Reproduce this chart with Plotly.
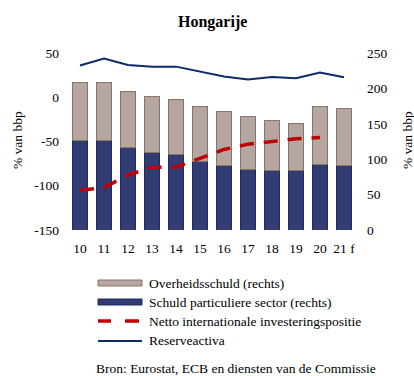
import plotly.graph_objects as go

# Jaren (2021 = prognose)
years = ["10", "11", "12", "13", "14", "15", "16", "17", "18", "19", "20", "21 f"]

# Rechteras: schuld in % van bbp
private_debt = [127, 127, 117, 109, 107, 96.5, 91, 85, 84, 84, 92, 91]
government_debt = [82, 82, 79, 79, 78, 77.5, 76, 75, 70, 66, 82, 80]

# Linkeras: % van bbp
niip = [-105, -102, -88, -79, -79, -69, -59, -53, -50, -47, -45.5, None]
reserves = [35.8, 43.7, 36.5, 34.6, 34.6, 29, 23.4, 20, 23, 21.5, 27.9, 22.6]

left_ticks = [-150, -100, -50, 0, 50]
left_ticktext = ["-150", "-100", "-50", "0", "50"]
right_ticks = [0, 50, 100, 150, 200, 250]
right_ticktext = ["0", "50", "100", "150", "200", "250"]

FONT = "Liberation Serif"
GREY = "#B5A79F"
GREY_EDGE = "#8A7468"
NAVY = "#323C74"
NAVY_EDGE = "#1E2A5E"
RED = "#C00000"
LINE_BLUE = "#0F2A6A"

W, H = 414, 376
ML, MR, MT, MB = 68, 58, 53, 146
PW, PH = W - ML - MR, H - MT - MB


def px(x):
    return (x - ML) / PW


def py(y):
    return (H - MB - y) / PH


fig = go.Figure()

fig.add_trace(go.Bar(
    x=years, y=private_debt, name="Schuld particuliere sector (rechts)",
    marker=dict(color=NAVY, line=dict(color=NAVY_EDGE, width=1)),
    yaxis="y", showlegend=False,
))
fig.add_trace(go.Bar(
    x=years, y=government_debt, name="Overheidsschuld (rechts)",
    marker=dict(color=GREY, line=dict(color=GREY_EDGE, width=1)),
    yaxis="y", showlegend=False,
))
fig.add_trace(go.Scatter(
    x=years, y=niip, name="Netto internationale investeringspositie",
    mode="lines", line=dict(color=RED, width=3.5, dash="14px,10px"),
    yaxis="y2", showlegend=False,
))
fig.add_trace(go.Scatter(
    x=years, y=reserves, name="Reserveactiva",
    mode="lines", line=dict(color=LINE_BLUE, width=2),
    yaxis="y2", showlegend=False,
))

tickfont = dict(family=FONT, size=13.5, color="black")

fig.update_layout(
    width=W, height=H,
    margin=dict(l=ML, r=MR, t=MT, b=MB),
    paper_bgcolor="white", plot_bgcolor="white",
    barmode="stack", bargap=0.35,
    font=dict(family=FONT, color="black"),
    xaxis=dict(
        type="category", showgrid=False, showline=False, zeroline=False,
        tickfont=tickfont, ticks="", ticklabelstandoff=8,
    ),
    yaxis=dict(
        side="right", range=[0, 250], tickvals=right_ticks, ticktext=right_ticktext,
        showgrid=False, showline=False, zeroline=False, tickfont=tickfont,
        ticklabelstandoff=10,
    ),
    yaxis2=dict(
        overlaying="y", side="left", range=[-150, 50], tickvals=left_ticks,
        ticktext=left_ticktext, showgrid=False, showline=False, zeroline=False,
        tickfont=tickfont, ticklabelstandoff=8,
    ),
    showlegend=False,
)

annotations = [
    dict(text="<b>Hongarije</b>", x=px(212), y=py(22), font=dict(size=16)),
    dict(text="% van bbp", x=px(17), y=py(140), textangle=-90, font=dict(size=13.5)),
    dict(text="% van bbp", x=px(407), y=py(140), textangle=-90, font=dict(size=13.5)),
    dict(text="Bron: Eurostat, ECB en diensten van de Commissie",
         x=px(236), y=py(368), font=dict(size=13.5)),
]
legend_rows = [
    ("Overheidsschuld (rechts)", 283),
    ("Schuld particuliere sector (rechts)", 302),
    ("Netto internationale investeringspositie", 321),
    ("Reserveactiva", 340),
]
for label, ly in legend_rows:
    annotations.append(dict(text=label, x=px(147), y=py(ly), xanchor="left",
                            font=dict(size=13.5)))
for a in annotations:
    a.setdefault("xanchor", "center")
    a.update(xref="paper", yref="paper", yanchor="middle", showarrow=False)
    a["font"].setdefault("family", FONT)
    a["font"].setdefault("color", "black")
fig.update_layout(annotations=annotations)

shapes = [
    dict(type="rect", x0=px(98), x1=px(142), y0=py(280), y1=py(286),
         fillcolor=GREY, line=dict(color=GREY_EDGE, width=1)),
    dict(type="rect", x0=px(98), x1=px(142), y0=py(299), y1=py(305),
         fillcolor=NAVY, line=dict(color=NAVY_EDGE, width=1)),
    dict(type="line", x0=px(98), x1=px(111), y0=py(321), y1=py(321),
         line=dict(color=RED, width=3.5)),
    dict(type="line", x0=px(125), x1=px(139), y0=py(321), y1=py(321),
         line=dict(color=RED, width=3.5)),
    dict(type="line", x0=px(98), x1=px(142), y0=py(341), y1=py(341),
         line=dict(color=LINE_BLUE, width=2)),
]
for s in shapes:
    s.update(xref="paper", yref="paper")
fig.update_layout(shapes=shapes)

fig.write_html("out.html")
